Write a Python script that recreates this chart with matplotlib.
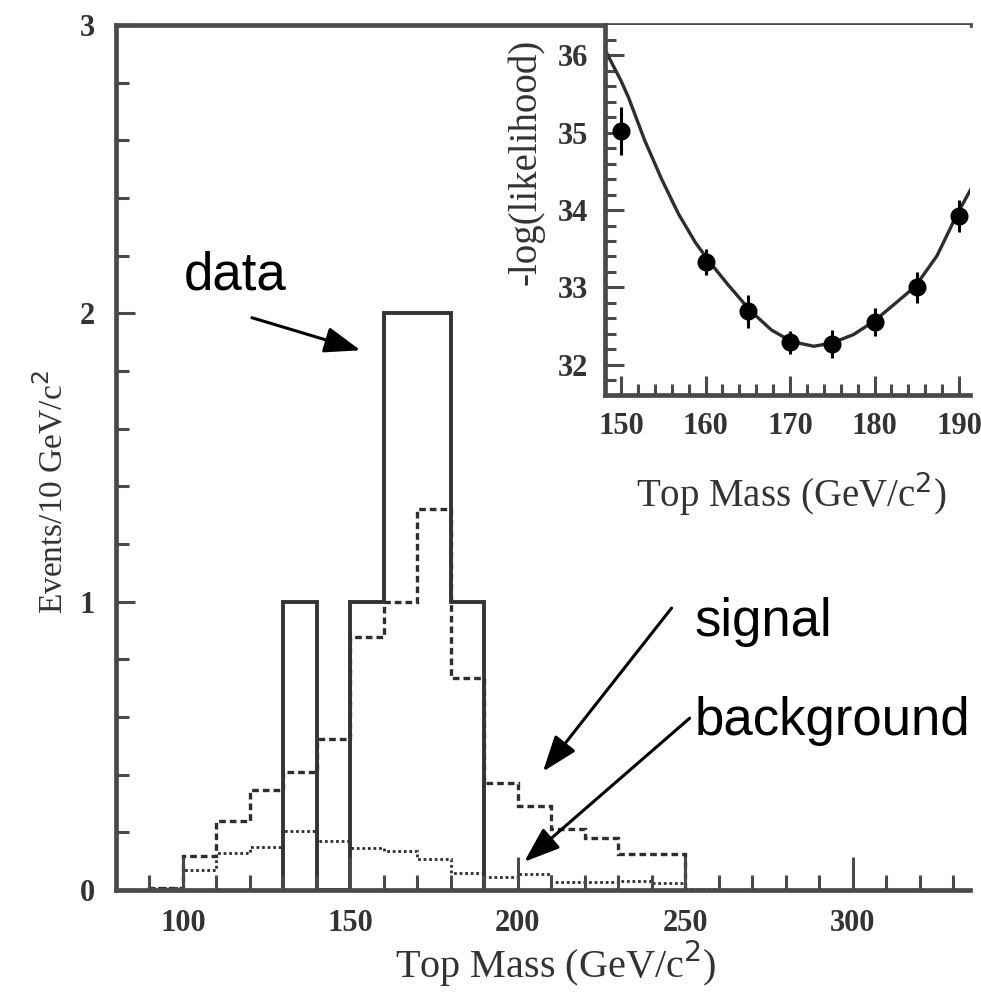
import matplotlib.pyplot as plt
import numpy as np
from matplotlib.ticker import MultipleLocator

# histogram bins (GeV/c^2)
sig_edges = np.arange(90, 251, 10)
signal = [0.006, 0.118, 0.238, 0.348, 0.409, 0.525, 0.879, 1.0, 1.32, 0.735,
          0.37, 0.29, 0.21, 0.18, 0.126, 0.126]
bkg_edges = np.arange(90, 261, 10)
background = [0.006, 0.07, 0.128, 0.148, 0.205, 0.171, 0.146, 0.134, 0.107, 0.058,
              0.046, 0.057, 0.029, 0.029, 0.03, 0.023, 0.005]
data_edges = np.arange(130, 191, 10)
data_counts = [1, 0, 1, 2, 2, 1]

# likelihood scan
scan_mass = [150, 160, 165, 170, 175, 180, 185, 190]
scan_nll = [35.02, 33.33, 32.69, 32.29, 32.27, 32.55, 33.0, 33.92]
scan_err = [0.31, 0.17, 0.21, 0.15, 0.18, 0.18, 0.2, 0.21]
fit_mass = [148.2, 149.0, 150.0, 150.9, 152.8, 154.8, 156.8, 158.8, 160.4, 162.7, 165.3,
            167.8, 170.2, 172.8, 174.9, 177.5, 179.9, 182.2, 184.8, 187.4, 189.7, 191.5]
fit_nll = [36.05, 35.88, 35.67, 35.45, 34.9, 34.4, 33.95, 33.58, 33.34, 33.03, 32.7,
           32.45, 32.3, 32.24, 32.28, 32.39, 32.56, 32.77, 33.01, 33.41, 33.93, 34.29]

serif = 'Liberation Serif'
sans = 'Liberation Sans'
dark = '#2e2e2e'
spine_col = '#4a4a4a'

fig = plt.figure(figsize=(9.81, 9.94), dpi=100)
ax = fig.add_axes([0.1182, 0.1046, 0.8706, 0.8702])

ax.stairs(signal, sig_edges, color=dark, lw=2.4, linestyle=(0, (2.0, 1.2)))
ax.stairs(background, bkg_edges, color=dark, lw=2.0, linestyle=(0, (1.0, 1.0)))
ax.stairs(data_counts, data_edges, color='#333333', lw=2.8)

ax.set_xlim(80, 335)
ax.set_ylim(0, 3)
ax.xaxis.set_major_locator(MultipleLocator(50))
ax.xaxis.set_minor_locator(MultipleLocator(10))
ax.yaxis.set_major_locator(MultipleLocator(1))
ax.yaxis.set_minor_locator(MultipleLocator(0.2))
ax.tick_params(which='both', direction='in', color=spine_col, width=2.2,
               top=False, right=False)
ax.tick_params(axis='x', which='major', length=24, pad=14)
ax.tick_params(axis='x', which='minor', length=11)
ax.tick_params(axis='y', which='major', length=14, pad=15)
ax.tick_params(axis='y', which='minor', length=9)
for lab in ax.get_xticklabels() + ax.get_yticklabels():
    lab.set_fontfamily(serif)
    lab.set_fontsize(22)
    lab.set_fontweight('bold')
    lab.set_color('#333333')
ax.spines['right'].set_visible(False)
for s in ['left', 'top', 'bottom']:
    ax.spines[s].set_linewidth(3.4)
    ax.spines[s].set_color(spine_col)

ax.set_xlabel('Top Mass (GeV/c$^2$)', fontfamily=serif, fontsize=29, color='#333333')
ax.xaxis.set_label_coords(0.515, -0.056)
ax.set_ylabel('Events/10 GeV/c$^2$', fontfamily=serif, fontsize=24, color='#333333')
ax.yaxis.set_label_coords(-0.054, 0.46)

# annotations
arrow = dict(arrowstyle='-|>,head_length=1.1,head_width=0.4', color='black',
             lw=2.2, mutation_scale=20, shrinkA=0, shrinkB=0)
ax.text(100.1, 2.083, 'data', fontfamily=sans, fontsize=38)
ax.annotate('', xy=(153.0, 1.872), xytext=(120.6, 1.985), arrowprops=arrow)
ax.text(252.7, 0.88, 'signal', fontfamily=sans, fontsize=38)
ax.annotate('', xy=(207.5, 0.411), xytext=(245.9, 0.978), arrowprops=arrow)
ax.text(252.7, 0.538, 'background', fontfamily=sans, fontsize=38)
ax.annotate('', xy=(201.9, 0.098), xytext=(251.3, 0.596), arrowprops=arrow)

# inset: -log(likelihood) vs top mass
ins = fig.add_axes([0.6167, 0.6026, 0.3721, 0.3722])
ins.plot(fit_mass, fit_nll, color=dark, lw=2.4)
ins.errorbar(scan_mass, scan_nll, yerr=scan_err, fmt='o', color='black',
             ms=12, elinewidth=2.2, capsize=0)
ins.set_xlim(148.1, 191.3)
ins.set_ylim(31.61, 36.39)
ins.xaxis.set_major_locator(MultipleLocator(10))
ins.xaxis.set_minor_locator(MultipleLocator(2))
ins.yaxis.set_major_locator(MultipleLocator(1))
ins.yaxis.set_minor_locator(MultipleLocator(0.2))
ins.tick_params(which='both', direction='in', color=spine_col, width=2.2,
                top=False, right=False)
ins.tick_params(which='major', length=14, pad=12)
ins.tick_params(which='minor', length=8)
for lab in ins.get_xticklabels() + ins.get_yticklabels():
    lab.set_fontfamily(serif)
    lab.set_fontsize(22)
    lab.set_fontweight('bold')
    lab.set_color('#333333')
ins.spines['right'].set_visible(False)
ins.spines['top'].set_visible(False)
for s in ['left', 'bottom']:
    ins.spines[s].set_linewidth(3.4)
    ins.spines[s].set_color(spine_col)
ins.set_xlabel('Top Mass (GeV/c$^2$)', fontfamily=serif, fontsize=28, color='#333333')
ins.xaxis.set_label_coords(0.51, -0.2)
ins.set_ylabel('-log(likelihood)', fontfamily=serif, fontsize=28, color='#333333')
ins.yaxis.set_label_coords(-0.165, 0.63)

fig.savefig('out.png', dpi=100)
